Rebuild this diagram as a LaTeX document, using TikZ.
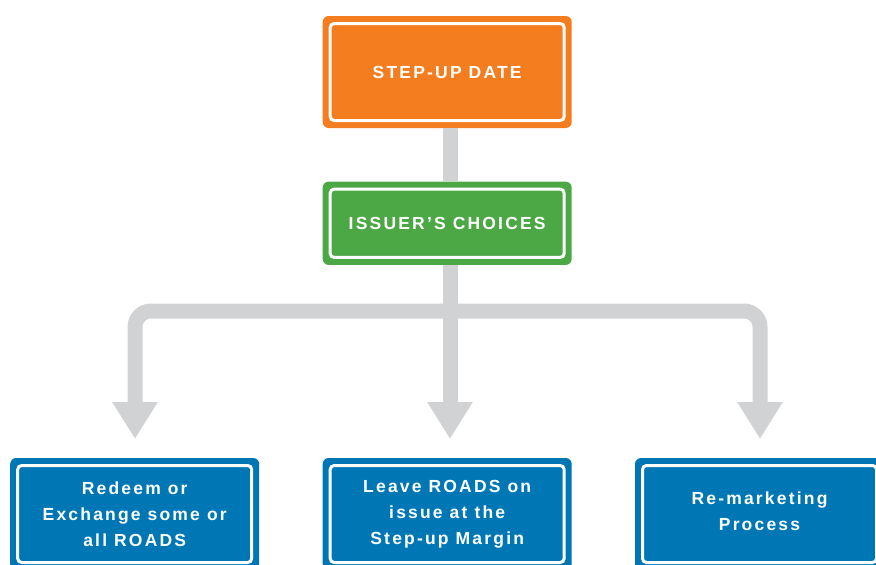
\documentclass[tikz,border=0pt]{standalone}
\usepackage{fontspec}
\setmainfont{Liberation Sans}[LetterSpace=12.5]
\usetikzlibrary{arrows.meta}
\definecolor{cOrange}{HTML}{F47D20}
\definecolor{cGreen}{HTML}{4BA845}
\definecolor{cBlue}{HTML}{0077B5}
\definecolor{cGray}{HTML}{D1D2D4}
\tikzset{
  boxfont/.style={text=white, font=\fontsize{17.5}{26}\selectfont\bfseries, align=center},
  box/.style={rectangle, rounded corners=6pt, minimum width=249pt, inner sep=0pt, boxfont,
    path picture={\draw[white,line width=3pt,rounded corners=4pt]
      ([shift={(7.5pt,-7.5pt)}]path picture bounding box.north west) rectangle
      ([shift={(-7.5pt,7.5pt)}]path picture bounding box.south east);}},
  pipe/.style={draw=cGray, line width=15pt, rounded corners=16pt},
  arrowpipe/.style={pipe, -{Triangle[length=37pt,width=43pt]}},
}
\begin{document}
\begin{tikzpicture}[x=1pt,y=-1pt]
\useasboundingbox (0,0) rectangle (876,565);
\node[box, fill=cOrange, minimum height=112pt] (date) at (447.2,72) {STEP-UP DATE};
\node[box, fill=cGreen, minimum height=83.3pt] (choice) at (447.2,223.3) {ISSUER’S CHOICES};
\node[box, fill=cBlue, minimum height=112pt] (redeem) at (134.7,514) {Redeem or\\Exchange some or\\all ROADS};
\node[box, fill=cBlue, minimum height=112pt] (leave) at (447.2,514) {Leave ROADS on\\issue at the\\Step-up Margin};
\node[box, fill=cBlue, minimum height=112pt] (remark) at (759.5,514) {};
\node[boxfont] (remarktext) at (759.5,511.5) {Re-marketing\\Process};
\coordinate (trunk) at (450,0);
\coordinate (split) at (450,311);
\coordinate (tipL) at (135,439);
\coordinate (tipM) at (450,439);
\coordinate (tipR) at (760,439);
\draw[draw=cGray, line width=15pt] (date.south -| trunk) -- (choice.north -| trunk);
\draw[arrowpipe] (choice.south -| trunk) -- (tipM);
\draw[arrowpipe] (split) -| (tipL);
\draw[arrowpipe] (split) -| (tipR);
\end{tikzpicture}
\end{document}
